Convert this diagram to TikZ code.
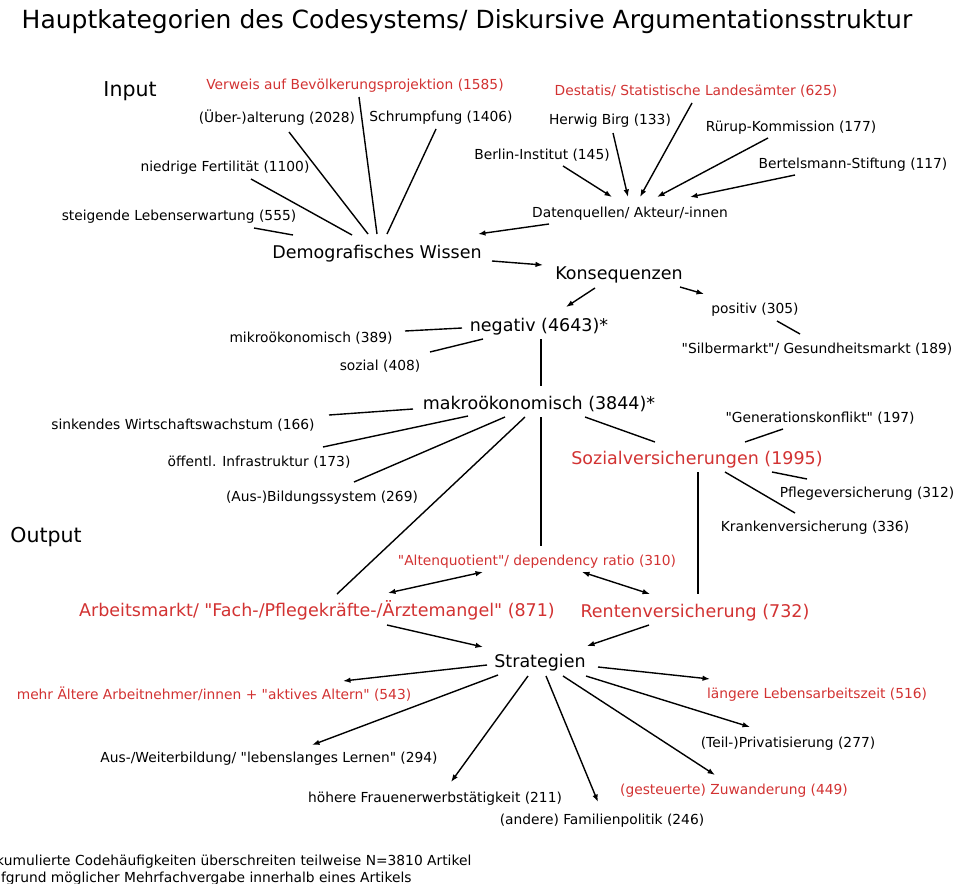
\documentclass[tikz,border=0pt]{standalone}
\usepackage{fontspec}
\setmainfont{DejaVu Sans}
\usetikzlibrary{arrows.meta}
\definecolor{rot}{RGB}{210,50,50}
\newcommand{\qq}{\textquotedbl}

\begin{document}
\begin{tikzpicture}[x=1pt, y=-1pt,
    >={Latex[length=7.5pt,width=5.5pt]},   % Pfeilspitzen
    every node/.style={inner sep=0pt, outer sep=0pt},
    klein/.style={font=\fontsize{13.8}{16}\selectfont, text height=9.8pt, text depth=0pt},
    mittel/.style={font=\fontsize{17.5}{21}\selectfont, text height=12.4pt, text depth=0pt},
    gross/.style={font=\fontsize{20.5}{24}\selectfont, text height=14.6pt, text depth=0pt},
    fuss/.style={font=\fontsize{13.8}{16}\selectfont, text height=9.8pt, text depth=0pt, anchor=west},
    rotxt/.style={text=rot},
    lin/.style={line width=1.4pt}]
  % Bildbereich
  \useasboundingbox (0,0) rectangle (957,883);
  % Ueberschrift
  \node[font=\fontsize{25}{29}\selectfont, text height=17.8pt, text depth=0pt] (titel) at (467,20)
    {Hauptkategorien des Codesystems/ Diskursive Argumentationsstruktur};
  \node[gross] (input) at (130,89) {Input};
  \node[gross] (output) at (46,535) {Output};

  % Input: Demografisches Wissen
  \node[klein, rotxt] (verweis) at (355,85) {Verweis auf Bevölkerungsprojektion (1585)};
  \node[klein] (ueber) at (277,118) {(Über-)alterung (2028)};
  \node[klein] (schrumpf) at (441,117) {Schrumpfung (1406)};
  \node[klein] (fert) at (225,167) {niedrige Fertilität (1100)};
  \node[klein] (lebens) at (179,216) {steigende Lebenserwartung (555)};
  \node[mittel] (dw) at (377,252) {Demografisches Wissen};

  % Datenquellen
  \node[klein, rotxt] (destatis) at (696,91) {Destatis/ Statistische Landesämter (625)};
  \node[klein] (birg) at (610,120) {Herwig Birg (133)};
  \node[klein] (ruerup) at (791,127) {Rürup-Kommission (177)};
  \node[klein] (berlin) at (542,155) {Berlin-Institut (145)};
  \node[klein] (bertels) at (853,164) {Bertelsmann-Stiftung (117)};
  \node[klein] (dq) at (630,213) {Datenquellen/ Akteur/-innen};

  % Konsequenzen
  \node[mittel] (kons) at (619,273) {Konsequenzen};
  \node[mittel] (neg) at (539,325) {negativ (4643)*};
  \node[klein] (pos) at (755,309) {positiv (305)};
  \node[klein] (silber) at (817,349) {\qq Silbermarkt\qq/ Gesundheitsmarkt (189)};
  \node[klein] (mikro) at (311,338) {mikroökonomisch (389)};
  \node[klein] (sozial) at (380,366) {sozial (408)};
  \node[mittel] (makro) at (539,403) {makroökonomisch (3844)*};
  \node[klein] (sinkend) at (183,425) {sinkendes Wirtschaftswachstum (166)};
  \node[klein] (infra) at (259,462) {öffentl. Infrastruktur (173)};
  \node[klein] (bildung) at (322,497) {(Aus-)Bildungssystem (269)};
  \node[klein] (genkonf) at (820,418) {\qq Generationskonflikt\qq{} (197)};
  \node[mittel, rotxt] (sv) at (697,458) {Sozialversicherungen (1995)};
  \node[klein] (pflege) at (867,493) {Pflegeversicherung (312)};
  \node[klein] (kranken) at (815,527) {Krankenversicherung (336)};

  % Output
  \node[klein, rotxt] (alten) at (537,561) {\qq Altenquotient\qq/ dependency ratio (310)};
  \node[mittel, rotxt] (arbeit) at (317,610) {Arbeitsmarkt/ \qq Fach-/Pflegekräfte-/Ärztemangel\qq{} (871)};
  \node[mittel, rotxt] (rente) at (695,611) {Rentenversicherung (732)};
  \node[mittel] (strat) at (540,661) {Strategien};
  \node[klein, rotxt] (mehr) at (214,695) {mehr Ältere Arbeitnehmer/innen + \qq aktives Altern\qq{} (543)};
  \node[klein, rotxt] (laenger) at (817,694) {längere Lebensarbeitszeit (516)};
  \node[klein] (weiter) at (269,758) {Aus-/Weiterbildung/ \qq lebenslanges Lernen\qq{} (294)};
  \node[klein] (privat) at (788,743) {(Teil-)Privatisierung (277)};
  \node[klein, rotxt] (zuwand) at (734,790) {(gesteuerte) Zuwanderung (449)};
  \node[klein] (hoeher) at (435,798) {höhere Frauenerwerbstätigkeit (211)};
  \node[klein] (familie) at (602,820) {(andere) Familienpolitik (246)};

  % Fussnote (links abgeschnitten)
  \node[fuss] (fuss1) at (4,861) {\llap{k}umulierte Codehäufigkeiten überschreiten teilweise N=3810 Artikel};
  \node[fuss] (fuss2) at (1,878) {\llap{au}fgrund möglicher Mehrfachvergabe innerhalb eines Artikels};

  % Linien zum demografischen Wissen
  \draw[lin] ([shift={(75,12)}]lebens.center) -- ([shift={(-84,-17)}]dw.center);
  \draw[lin] ([shift={(26,12)}]fert.center) -- ([shift={(-25,-17)}]dw.center);
  \draw[lin] ([shift={(12,14)}]ueber.center) -- ([shift={(-9,-18)}]dw.center);
  \draw[lin] ([shift={(4,12)}]verweis.center) -- ([shift={(0,-18)}]dw.center);
  \draw[lin] ([shift={(-5,12)}]schrumpf.center) -- ([shift={(10,-18)}]dw.center);

  % Pfeile zu den Datenquellen
  \draw[lin,->] ([shift={(21,11)}]berlin.center) -- ([shift={(-18,-16)}]dq.center);
  \draw[lin,->] ([shift={(3,13)}]birg.center) -- ([shift={(-2,-16)}]dq.center);
  \draw[lin,->] ([shift={(-4,12)}]destatis.center) -- ([shift={(10,-16)}]dq.center);
  \draw[lin,->] ([shift={(-23,11)}]ruerup.center) -- ([shift={(27,-16)}]dq.center);
  \draw[lin,->] ([shift={(-58,11)}]bertels.center) -- ([shift={(60,-16)}]dq.center);
  \draw[lin,->] ([shift={(-81,11)}]dq.center) -- ([shift={(101,-18)}]dw.center);
  \draw[lin,->] ([shift={(115,9)}]dw.center) -- ([shift={(-76,-8)}]kons.center);
  \draw[lin,->] ([shift={(-24,15)}]kons.center) -- ([shift={(27,-18)}]neg.center);
  \draw[lin,->] ([shift={(61,14)}]kons.center) -- ([shift={(-51,-15)}]pos.center);

  % Konsequenzen: Linien
  \draw[lin] ([shift={(22,12)}]pos.center) -- ([shift={(-17,-15)}]silber.center);
  \draw[lin] ([shift={(94,-7)}]mikro.center) -- ([shift={(-77,3)}]neg.center);
  \draw[lin] ([shift={(50,-14)}]sozial.center) -- ([shift={(-56,14)}]neg.center);
  \draw[lin] ([shift={(2,14)}]neg.center) -- ([shift={(2,-17)}]makro.center);
  \draw[lin] ([shift={(146,-10)}]sinkend.center) -- ([shift={(-126,6)}]makro.center);
  \draw[lin] ([shift={(64,-15)}]infra.center) -- ([shift={(-71,13)}]makro.center);
  \draw[lin] ([shift={(32,-15)}]bildung.center) -- ([shift={(-34,14)}]makro.center);
  \draw[lin] ([shift={(20,-16)}]arbeit.center) -- ([shift={(-14,14)}]makro.center);
  \draw[lin] ([shift={(2,14)}]makro.center) -- ([shift={(4,-15)}]alten.center);
  \draw[lin] ([shift={(46,14)}]makro.center) -- ([shift={(-42,-16)}]sv.center);
  \draw[lin] ([shift={(-37,11)}]genkonf.center) -- ([shift={(48,-16)}]sv.center);
  \draw[lin] ([shift={(75,14)}]sv.center) -- ([shift={(-60,-14)}]pflege.center);
  \draw[lin] ([shift={(28,14)}]sv.center) -- ([shift={(-20,-14)}]kranken.center);
  \draw[lin] ([shift={(1,14)}]sv.center) -- ([shift={(3,-17)}]rente.center);

  % Output: Pfeile
  \draw[lin,<->] ([shift={(71,-17)}]arbeit.center) -- ([shift={(-54,11)}]alten.center);
  \draw[lin,<->] ([shift={(45,11)}]alten.center) -- ([shift={(-45,-17)}]rente.center);
  \draw[lin,->] ([shift={(70,15)}]arbeit.center) -- ([shift={(-57,-14)}]strat.center);
  \draw[lin,->] ([shift={(-46,14)}]rente.center) -- ([shift={(47,-15)}]strat.center);

  % Strategien
  \draw[lin,->] ([shift={(-53,4)}]strat.center) -- ([shift={(129,-14)}]mehr.center);
  \draw[lin,->] ([shift={(58,6)}]strat.center) -- ([shift={(-107,-15)}]laenger.center);
  \draw[lin,->] ([shift={(-42,14)}]strat.center) -- ([shift={(43,-13)}]weiter.center);
  \draw[lin,->] ([shift={(-12,15)}]strat.center) -- ([shift={(16,-16)}]hoeher.center);
  \draw[lin,->] ([shift={(6,15)}]strat.center) -- ([shift={(-4,-18)}]familie.center);
  \draw[lin,->] ([shift={(23,15)}]strat.center) -- ([shift={(-19,-15)}]zuwand.center);
  \draw[lin,->] ([shift={(46,15)}]strat.center) -- ([shift={(-38,-16)}]privat.center);
\end{tikzpicture}
\end{document}
